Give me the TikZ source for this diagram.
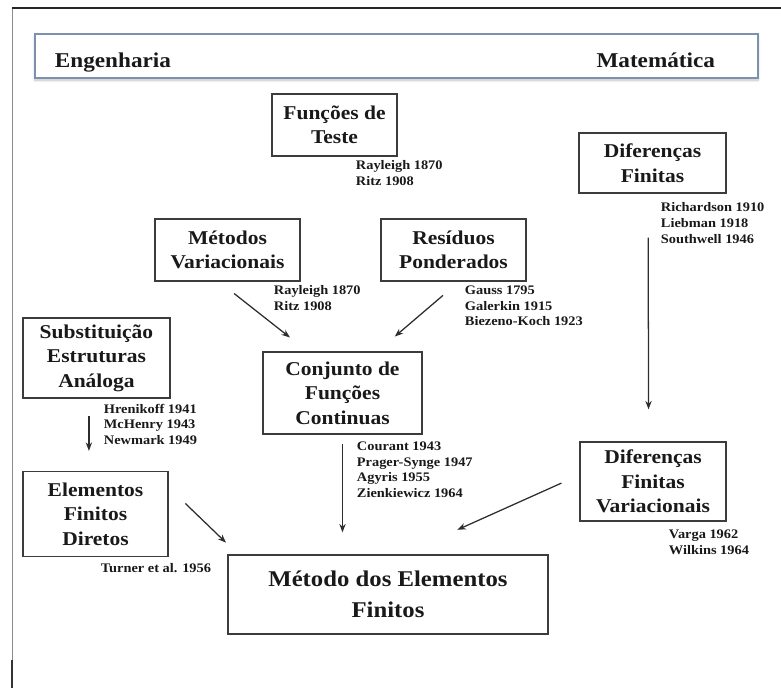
\documentclass[tikz,border=0pt]{standalone}
\usepackage{fontspec}
\setmainfont{Liberation Serif}[FakeStretch=1.1]
\usepackage{tikz}
\usetikzlibrary{positioning}
\usetikzlibrary{arrows.meta}
\usetikzlibrary{shadows.blur}
\definecolor{boxgray}{RGB}{60,60,60}
\definecolor{textgray}{RGB}{25,25,25}
\definecolor{arrowgray}{RGB}{45,45,45}
\definecolor{bannerblue}{RGB}{125,145,172}
\newcommand{\boxfont}{\bfseries\fontsize{13.9}{17.4}\selectfont}
\newcommand{\lblfont}{\bfseries\fontsize{9.3}{11.1}\selectfont}
\newcommand{\mainfont}{\bfseries\fontsize{16}{22}\selectfont}
\newcommand{\headfont}{\bfseries\fontsize{15}{18}\selectfont}

\begin{document}
\begin{tikzpicture}[x=0.025cm, y=-0.025cm,
  box/.style={draw=boxgray, line width=0.9pt, align=center, inner sep=2pt, text=textgray, font=\boxfont},
  lbl/.style={align=left, inner sep=0pt, text=textgray, font=\lblfont},
  arr/.style={-{Stealth[length=6pt, width=4.5pt]}, line width=0.9pt, draw=arrowgray}]

\useasboundingbox (0,0) rectangle (781,688);

% Frame
\draw[black!45, line width=0.7pt] (12,688) -- (12,8);
\draw[black!85, line width=1pt] (11.6,8) -- (781,8);
\draw[black!80, line width=1.6pt] (12,660) -- (12,688);

% Banner
\node[draw=bannerblue, line width=1.2pt, fill=white, minimum width=18.075cm, minimum height=1.1cm,
  blur shadow={shadow xshift=0pt, shadow yshift=-1.5pt, shadow blur steps=6, shadow opacity=25}]
  (banner) at (396.5,56) {};
\node[anchor=base west, font=\headfont, text=textgray] (eng) at (50,68) {Engenharia};
\node[anchor=base east, font=\headfont, text=textgray] (mat) at (720,68) {Matemática};

% Boxes
\node[box, minimum width=3.125cm, minimum height=1.55cm] (ft) at (334.5,125) {Funções de\\Teste};
\node[box, minimum width=3.675cm, minimum height=1.5cm] (df) at (652.5,163) {Diferenças\\Finitas};
\node[box, minimum width=3.625cm, minimum height=1.55cm] (mv) at (227.5,250) {Métodos\\Variacionais};
\node[box, minimum width=3.625cm, minimum height=1.55cm] (rp) at (453.5,250) {Resíduos\\Ponderados};
\node[box, minimum width=3.675cm, minimum height=2.0cm] (sea) at (96.5,358) {Substituição\\Estruturas\\Análoga};
\node[box, minimum width=3.975cm, minimum height=2.05cm] (cfc) at (342.5,393) {Conjunto de\\Funções\\Continuas};
\node[box, minimum width=3.65cm, minimum height=1.975cm] (dfv) at (653,481.5) {Diferenças\\Finitas\\Variacionais};
\node[box, minimum width=3.625cm, minimum height=2.125cm] (efd) at (95.5,514) {Elementos\\Finitos\\Diretos};
\node[box, font=\mainfont, minimum width=8.0cm, minimum height=1.975cm] (mef) at (388,594.5) {Método dos Elementos\\Finitos};

% Authors
\node[lbl, below right=0.1cm and -1.05cm of ft.south east] (ftlbl) {Rayleigh 1870\\Ritz 1908};
\node[lbl, below right=0.225cm and -1.65cm of df.south east] (dflbl) {Richardson 1910\\Liebman 1918\\Southwell 1946};
\node[lbl, below right=0.1cm and -0.675cm of mv.south east] (mvlbl) {Rayleigh 1870\\Ritz 1908};
\node[lbl, below right=0.1cm and -1.55cm of rp.south east] (rplbl) {Gauss 1795\\Galerkin 1915\\Biezeno-Koch 1923};
\node[lbl, below right=0.125cm and -1.675cm of sea.south east] (sealbl) {Hrenikoff 1941\\McHenry 1943\\Newmark 1949};
\node[lbl, below right=0.175cm and -1.65cm of cfc.south east] (cfclbl) {Courant 1943\\Prager-Synge 1947\\Agyris 1955\\Zienkiewicz 1964};
\node[lbl, below right=0.2cm and -1.45cm of dfv.south east] (dfvlbl) {Varga 1962\\Wilkins 1964};
\node[lbl, below right=0.16cm and -1.7cm of efd.south east] (efdlbl) {Turner et al. 1956};

% Arrows
\draw[arr, shorten <=0.48cm, shorten >=0.56cm] (mv.255) -- (cfc.130);
\draw[arr, shorten <=0.53cm, shorten >=0.57cm] (rp.280) -- (cfc.50);
\draw[arr, shorten <=0.23cm, shorten >=0.55cm] (cfc.south) -- (cfc.south |- mef.north);
\draw[arr, shorten <=1.1cm, shorten >=0.8cm] ([xshift=-0.11cm]df.south) -- ([xshift=-0.11cm]dfv.north);
\draw[arr, shorten <=0.43cm, shorten >=0.5cm] ([xshift=-0.19cm]sea.south) -- ([xshift=-0.19cm]sea.south |- efd.north);
\draw[arr, shorten <=0.58cm, shorten >=0.42cm] (efd.20) -- (mef.165);
\draw[arr, shorten <=0.49cm, shorten >=1.5cm] (dfv.175) -- (mef.70);

\end{tikzpicture}
\end{document}
